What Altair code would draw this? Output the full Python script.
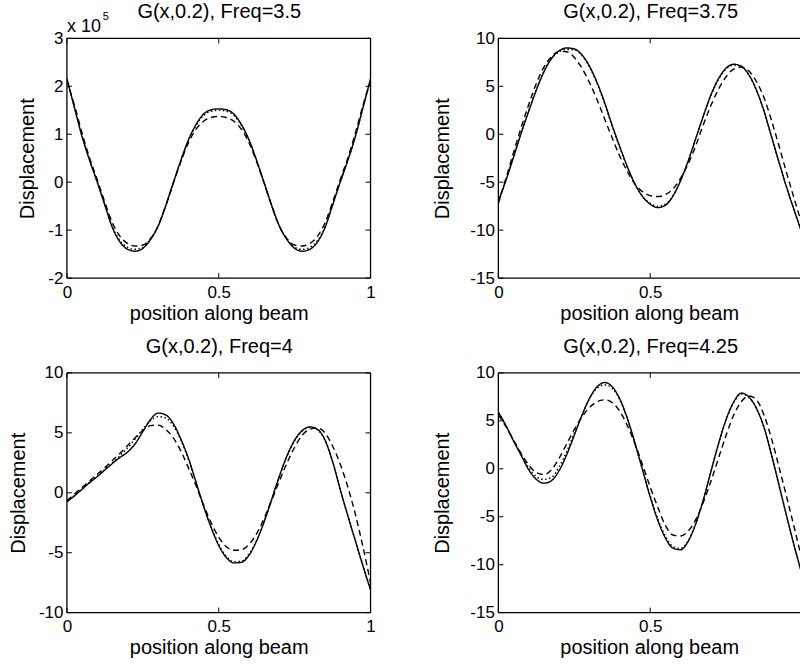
import altair as alt
import pandas as pd

# ---------------- data ----------------
X = [0.0, 0.025, 0.05, 0.075, 0.1, 0.125, 0.15, 0.175, 0.2, 0.225,
     0.25, 0.275, 0.3, 0.325, 0.35, 0.375, 0.4, 0.425, 0.45, 0.475,
     0.5, 0.525, 0.55, 0.575, 0.6, 0.625, 0.65, 0.675, 0.7, 0.725,
     0.75, 0.775, 0.8, 0.825, 0.85, 0.875, 0.9, 0.925, 0.95, 0.975, 1.0]

SERIES = ["solid", "dashed", "dotted"]

# Freq = 3.5 (values in units of 1e5)
f35_solid = [2.16, 1.55, 0.95, 0.45, 0.0, -0.48, -0.95, -1.25, -1.40, -1.44,
             -1.38, -1.20, -0.92, -0.50, -0.02, 0.45, 0.88, 1.20, 1.42, 1.51,
             1.53, 1.51, 1.42, 1.20, 0.88, 0.45, -0.02, -0.50, -0.92, -1.20,
             -1.38, -1.44, -1.40, -1.25, -0.95, -0.48, 0.0, 0.45, 0.95, 1.55, 2.16]
f35_dashed = [2.12, 1.60, 1.02, 0.50, 0.05, -0.42, -0.85, -1.13, -1.28, -1.33,
              -1.31, -1.18, -0.92, -0.50, -0.03, 0.42, 0.82, 1.10, 1.27, 1.35,
              1.37, 1.35, 1.27, 1.10, 0.82, 0.42, -0.03, -0.50, -0.92, -1.18,
              -1.31, -1.33, -1.28, -1.13, -0.85, -0.42, 0.05, 0.50, 1.02, 1.60, 2.12]
f35_dotted = [2.15, 1.56, 0.96, 0.46, 0.0, -0.47, -0.93, -1.22, -1.36, -1.40,
              -1.36, -1.19, -0.92, -0.50, -0.02, 0.45, 0.87, 1.18, 1.39, 1.48,
              1.50, 1.48, 1.39, 1.18, 0.87, 0.45, -0.02, -0.50, -0.92, -1.19,
              -1.36, -1.40, -1.36, -1.22, -0.93, -0.47, 0.0, 0.46, 0.96, 1.56, 2.15]

# Freq = 3.75
f375_solid = [-7.0, -4.8, -2.4, 0.1, 2.4, 4.6, 6.5, 7.9, 8.7, 9.0,
              8.9, 8.3, 7.1, 5.4, 3.3, 0.9, -1.3, -3.4, -5.2, -6.5,
              -7.3, -7.65, -7.4, -6.45, -4.85, -2.8, -0.45, 1.9, 4.1, 5.8,
              6.9, 7.3, 7.1, 6.2, 4.6, 2.4, -0.3, -3.0, -5.6, -8.0, -10.3]
f375_dashed = [-7.2, -4.6, -1.9, 0.7, 3.1, 5.3, 7.0, 8.1, 8.65, 8.6,
               8.0, 6.9, 5.4, 3.6, 1.6, -0.4, -2.3, -3.9, -5.2, -6.0,
               -6.4, -6.5, -6.3, -5.7, -4.6, -3.1, -1.2, 1.0, 3.0, 4.7,
               6.0, 6.8, 7.0, 6.6, 5.5, 3.8, 1.4, -1.3, -4.1, -6.8, -9.4]
f375_dotted = [-7.0, -4.7, -2.3, 0.2, 2.5, 4.7, 6.6, 7.9, 8.6, 8.85,
               8.8, 8.2, 7.0, 5.3, 3.2, 0.8, -1.4, -3.5, -5.2, -6.5,
               -7.2, -7.5, -7.3, -6.4, -4.8, -2.8, -0.45, 1.9, 4.0, 5.7,
               6.8, 7.2, 7.0, 6.2, 4.6, 2.4, -0.3, -3.0, -5.6, -8.0, -10.3]

# Freq = 4
f4_solid = [-0.75, -0.25, 0.3, 0.85, 1.35, 1.9, 2.45, 2.95, 3.4, 4.1,
            5.1, 6.1, 6.65, 6.5, 5.8, 4.5, 2.9, 0.9, -1.1, -2.9,
            -4.4, -5.4, -5.85, -5.8, -5.2, -4.0, -2.4, -0.5, 1.4, 3.1,
            4.4, 5.2, 5.5, 5.3, 4.4, 2.6, 0.3, -1.9, -4.0, -6.1, -8.1]
f4_dashed = [-0.65, -0.1, 0.45, 1.0, 1.55, 2.1, 2.7, 3.3, 3.95, 4.6,
             5.2, 5.6, 5.65, 5.3, 4.6, 3.5, 2.1, 0.6, -1.0, -2.5,
             -3.7, -4.5, -4.8, -4.75, -4.3, -3.4, -2.1, -0.6, 1.0, 2.5,
             3.8, 4.8, 5.3, 5.4, 5.0, 3.9, 2.4, 0.5, -1.8, -4.5, -7.5]
f4_dotted = [-0.75, -0.22, 0.33, 0.9, 1.4, 1.95, 2.5, 3.1, 3.75, 4.5,
             5.3, 6.0, 6.35, 6.25, 5.6, 4.4, 2.8, 0.9, -1.1, -2.85,
             -4.3, -5.3, -5.75, -5.7, -5.1, -3.95, -2.35, -0.5, 1.4, 3.05,
             4.35, 5.15, 5.45, 5.25, 4.4, 2.6, 0.3, -1.9, -4.0, -6.1, -8.1]

# Freq = 4.25
f425_solid = [5.9, 4.5, 2.9, 1.4, -0.1, -1.1, -1.5, -1.23, -0.19, 1.47,
              3.5, 5.56, 7.35, 8.55, 9.0, 8.57, 7.28, 5.24, 2.67, -0.14,
              -2.93, -5.38, -7.21, -8.28, -8.44, -7.57, -5.74, -3.23, -0.3, 2.62,
              5.15, 6.97, 7.9, 7.5, 6.3, 4.3, 1.4, -1.8, -5.0, -8.1, -11.0]
f425_dashed = [5.6, 4.4, 3.0, 1.6, 0.4, -0.4, -0.6, -0.1, 1.1, 2.6,
               4.1, 5.4, 6.4, 7.0, 7.2, 6.9, 6.0, 4.5, 2.6, 0.4,
               -1.9, -4.0, -5.9, -6.9, -7.0, -6.5, -5.3, -3.5, -1.3, 1.1,
               3.5, 5.6, 7.0, 7.6, 7.2, 5.6, 3.1, 0.1, -3.0, -6.2, -9.5]
f425_dotted = [5.85, 4.5, 2.95, 1.5, 0.1, -0.8, -1.1, -0.9, 0.2, 1.8,
               3.7, 5.6, 7.3, 8.4, 8.75, 8.4, 7.2, 5.2, 2.6, -0.1,
               -2.8, -5.2, -7.0, -8.1, -8.3, -7.5, -5.7, -3.2, -0.3, 2.6,
               5.1, 6.9, 7.8, 7.45, 6.3, 4.3, 1.4, -1.8, -5.0, -8.1, -11.0]

titles = ["G(x,0.2), Freq=3.5", "G(x,0.2), Freq=3.75",
          "G(x,0.2), Freq=4", "G(x,0.2), Freq=4.25"]
y_ticks_35 = [-2, -1, 0, 1, 2, 3]
y_ticks_375 = [-15, -10, -5, 0, 5, 10]
y_ticks_4 = [-10, -5, 0, 5, 10]
y_ticks_425 = [-15, -10, -5, 0, 5, 10]
x_ticks_full = [0, 0.5, 1]
x_ticks_cut = [0, 0.5]
x_title = "position along beam"
y_title = "Displacement"
exponent_base = "x 10"
exponent_power = "5"

# ---------------- style ----------------
FONT = "Liberation Sans, Arial, Helvetica, sans-serif"
H = 240
W_FULL = 304
W_CUT = 302
X_CUT_MAX = W_CUT / W_FULL  # right column is cut by the page edge


def panel(title, solid, dashed, dotted, ydom, yt, xmax, xt, width,
          right_frame, title_pad, exponent=False):
    df = pd.DataFrame({
        "x": X * 3,
        "y": solid + dashed + dotted,
        "s": ["solid"] * len(X) + ["dashed"] * len(X) + ["dotted"] * len(X),
    })
    xs = alt.Scale(domain=[0, xmax], nice=False, zero=False)
    ys = alt.Scale(domain=ydom, nice=False, zero=False)
    x_axis = alt.Axis(values=xt, title=x_title, labelExpr="'' + datum.value",
                      labelPadding=6, titlePadding=3, labelFlush=False,
                      labelOverlap=False, grid=False, domain=False, ticks=False)
    y_axis = alt.Axis(values=yt, title=y_title, labelExpr="'' + datum.value",
                      labelPadding=4, titlePadding=title_pad, labelFlush=False,
                      labelOverlap=False, grid=False, domain=False, ticks=False)

    lines = alt.Chart(df).mark_line(
        clip=True, color="black", strokeWidth=1.4, interpolate="monotone"
    ).encode(
        x=alt.X("x:Q", scale=xs, axis=x_axis),
        y=alt.Y("y:Q", scale=ys, axis=y_axis),
        strokeDash=alt.StrokeDash("s:N", scale=alt.Scale(
            domain=SERIES, range=[[1, 0], [6, 4], [1.5, 2.5]]), legend=None),
    )

    ytdf = pd.DataFrame({"y": yt})
    xtdf = pd.DataFrame({"x": xt})
    tick_style = dict(color="black", strokeWidth=1)
    layers = [lines]
    layers.append(alt.Chart(ytdf).mark_rule(**tick_style).encode(
        y=alt.Y("y:Q", scale=ys, axis=y_axis), x=alt.value(0), x2=alt.value(5)))
    if right_frame:
        layers.append(alt.Chart(ytdf).mark_rule(**tick_style).encode(
            y=alt.Y("y:Q", scale=ys, axis=y_axis),
            x=alt.value(width - 5), x2=alt.value(width)))
    layers.append(alt.Chart(xtdf).mark_rule(**tick_style).encode(
        x=alt.X("x:Q", scale=xs, axis=x_axis), y=alt.value(H - 5), y2=alt.value(H)))
    layers.append(alt.Chart(xtdf).mark_rule(**tick_style).encode(
        x=alt.X("x:Q", scale=xs, axis=x_axis), y=alt.value(0), y2=alt.value(5)))

    frame_style = dict(color="black", strokeWidth=1.3)
    layers.append(alt.Chart().mark_rule(**frame_style).encode(
        x=alt.value(0), x2=alt.value(width), y=alt.value(0)))
    layers.append(alt.Chart().mark_rule(**frame_style).encode(
        x=alt.value(0), x2=alt.value(width), y=alt.value(H)))
    layers.append(alt.Chart().mark_rule(**frame_style).encode(
        x=alt.value(0), y=alt.value(0), y2=alt.value(H)))
    if right_frame:
        layers.append(alt.Chart().mark_rule(**frame_style).encode(
            x=alt.value(width), y=alt.value(0), y2=alt.value(H)))

    # panel title (text), centred over the full-width plot area
    layers.append(alt.Chart(pd.DataFrame({"t": [title]})).mark_text(
        align="center", baseline="alphabetic", font=FONT, fontSize=20,
        color="black").encode(text="t:N", x=alt.value(W_FULL / 2 + 0.5),
                              y=alt.value(-20)))

    if exponent:
        layers.append(alt.Chart(pd.DataFrame({"t": [exponent_base]})).mark_text(
            align="left", baseline="alphabetic", font=FONT, fontSize=18,
            color="black").encode(text="t:N", x=alt.value(0), y=alt.value(-6)))
        layers.append(alt.Chart(pd.DataFrame({"t": [exponent_power]})).mark_text(
            align="left", baseline="alphabetic", font=FONT, fontSize=11,
            color="black").encode(text="t:N", x=alt.value(36), y=alt.value(-18)))

    return alt.layer(*layers).properties(width=width, height=H)


p1 = panel(titles[0], f35_solid, f35_dashed, f35_dotted, [-2, 3], y_ticks_35,
           1.0, x_ticks_full, W_FULL, True, 10, exponent=True)
p2 = panel(titles[1], f375_solid, f375_dashed, f375_dotted, [-15, 10], y_ticks_375,
           X_CUT_MAX, x_ticks_cut, W_CUT, False, 17)
p3 = panel(titles[2], f4_solid, f4_dashed, f4_dotted, [-10, 10], y_ticks_4,
           1.0, x_ticks_full, W_FULL, True, 10)
p4 = panel(titles[3], f425_solid, f425_dashed, f425_dotted, [-15, 10], y_ticks_425,
           X_CUT_MAX, x_ticks_cut, W_CUT, False, 17)

chart = alt.concat(
    p1, p2, p3, p4, columns=2, spacing={"row": 95, "column": 128}, bounds="flush"
).properties(
    padding={"left": 8, "top": 2, "right": 0, "bottom": 0},
    background="white",
).configure_view(stroke=None).configure_axis(
    labelFont=FONT, labelFontSize=17, labelColor="black",
    titleFont=FONT, titleFontSize=20, titleFontWeight="normal", titleColor="black",
)

chart.save("out.html", embed_options={"renderer": "svg", "actions": False})
